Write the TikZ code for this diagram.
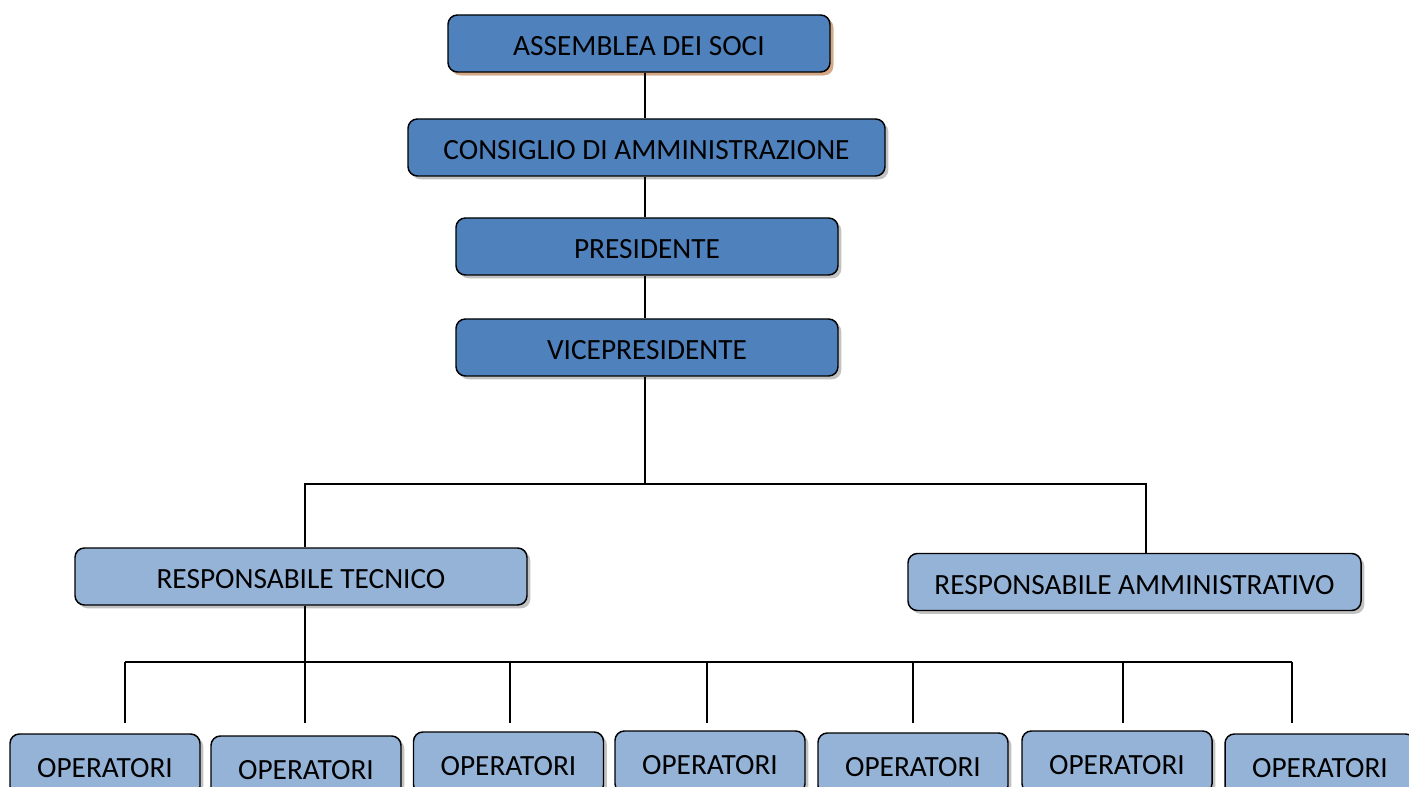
\documentclass[tikz,border=0pt]{standalone}
\usepackage{fontspec}
\setmainfont{Carlito}
\usetikzlibrary{shadows}

\definecolor{darkbox}{RGB}{79,129,189}
\definecolor{lightbox}{RGB}{149,179,215}
\definecolor{tanshadow}{RGB}{214,168,132}

\tikzset{every picture/.style={line width=0.75pt}}
\tikzset{
  orgbox/.style={draw=black, line width=1.1pt, rounded corners=7pt, inner sep=0pt,
    minimum height=42.75pt, text height=18.5pt, font=\fontsize{22}{26}\selectfont,
    drop shadow={shadow xshift=2.5pt, shadow yshift=-2.5pt, fill=black!40, opacity=0.6}},
  topbox/.style={orgbox, fill=darkbox},
  lowbox/.style={orgbox, fill=lightbox},
  opbox/.style={lowbox, minimum width=142.5pt, minimum height=46.5pt},
  link/.style={line width=1.1pt}
}

\begin{document}
\begin{tikzpicture}[x=0.75pt,y=0.75pt,yscale=-1,xscale=1]
\useasboundingbox (0,0) rectangle (1409,787);

%Top chain
\node [topbox, minimum width=286.5pt, drop shadow={shadow xshift=2.5pt, shadow yshift=-2.5pt, fill=tanshadow, opacity=1}] (ass) at (639,43.5) {ASSEMBLEA DEI SOCI};
\node [topbox, minimum width=357.75pt] (cda) at (646.5,147.5) {CONSIGLIO DI AMMINISTRAZIONE};
\node [topbox, minimum width=286.5pt] (pres) at (647,246.5) {PRESIDENTE};
\node [topbox, minimum width=286.5pt] (vice) at (647,347.5) {VICEPRESIDENTE};

%Responsabili
\node [lowbox, minimum width=339pt] (rtec) at (301,576.5) {RESPONSABILE TECNICO};
\node [lowbox, minimum width=339.75pt] (ramm) at (1134.5,582) {RESPONSABILE AMMINISTRATIVO};

%Operatori
\node [opbox] (op1) at (105,765) {OPERATORI};
\node [opbox] (op2) at (306,767) {OPERATORI};
\node [opbox] (op3) at (508.5,763) {OPERATORI};
\node [opbox] (op4) at (710,762) {OPERATORI};
\node [opbox] (op5) at (913,764) {OPERATORI};
\node [opbox] (op6) at (1117,762) {OPERATORI};
\node [opbox] (op7) at (1320,765) {OPERATORI};

%Straight Lines
\coordinate (axis) at (645,0);
\draw [link] (ass.south -| axis) -- (cda.north -| axis);
\draw [link] (cda.south -| axis) -- (pres.north -| axis);
\draw [link] (pres.south -| axis) -- (vice.north -| axis);

\coordinate (fork) at (645,484);
\draw [link] (vice.south -| fork) -- (fork);
\draw [link] (fork) -| ([xshift=3pt]rtec.north);
\draw [link] (fork) -| ([xshift=8.6pt]ramm.north);

\coordinate (bus) at (305,662);
\draw [link] ([xshift=3pt]rtec.south) -- (bus);
\draw [link] (125,662) -- (1292,662);
\foreach \x in {125,305,510,707,913,1123,1292}
  \draw [link] (\x,662) -- (\x,723);

\end{tikzpicture}
\end{document}
